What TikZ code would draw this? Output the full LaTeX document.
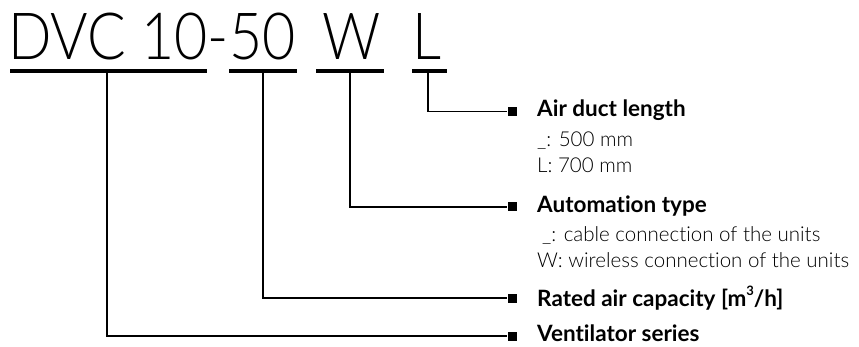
\documentclass[tikz,border=0pt]{standalone}
\usepackage{fontspec}
\setmainfont{Lato}[Ligatures=NoCommon]
\newfontfamily\lightfont{Lato Light}[Ligatures=NoCommon]
\begin{document}
\begin{tikzpicture}[x=1pt,y=-1pt,
 code/.style={inner sep=0,anchor=base west,font=\lightfont\fontsize{65}{65}\selectfont},
 uline/.style={line width=4pt},
 conn/.style={line width=1.4pt},
 marker/.style={fill=black,minimum size=9pt,inner sep=0},
 title/.style={inner sep=0,anchor=base west,font=\fontsize{22.5}{26}\selectfont\bfseries},
 desc/.style={inner sep=0,anchor=base west,font=\lightfont\fontsize{20.5}{24}\selectfont},
]
\useasboundingbox (0,0) rectangle (859,347);
% code
\node[code] (dvc) at (8,60) {\scalebox{0.88}[1]{DVC 10-50}};
\node[code] (cw) at (322,60) {\scalebox{0.88}[1]{W}};
\node[code] (cl) at (412,60) {\scalebox{0.88}[1]{L}};
% underlines
\draw[uline] (10,71) -- (207,71);
\draw[uline] (229,71) -- (297,71);
\draw[uline] (316,71) -- (384,71);
\draw[uline] (412,71) -- (447,71);
\coordinate (u1) at (107,71);
\coordinate (u2) at (263,71);
\coordinate (u3) at (350,71);
\coordinate (u4) at (428,71);
% markers
\node[marker] (m4) at (512,111.7) {};
\node[marker] (m3) at (512,207) {};
\node[marker] (m2) at (512,298) {};
\node[marker] (m1) at (512,336) {};
% connectors
\draw[conn] (u4) |- (m4.west);
\draw[conn] (u3) |- (m3.west);
\draw[conn] (u2) |- (m2.west);
\draw[conn] (u1) |- (m1.west);
% labels
\node[title] (t4) at (537,117) {Air duct length};
\node[desc] (d4a) at (537,147) {\_: 500 mm};
\node[desc] (d4b) at (537,173) {L: 700 mm};
\node[title] (t3) at (537,213) {Automation type};
\node[desc] (d3a) at (542,242) {\_: cable connection of the units};
\node[desc] (d3b) at (537,268) {W: wireless connection of the units};
\node[title] (t2) at (537,306) {Rated air capacity [m\raisebox{0.45em}{\fontsize{13}{13}\selectfont 3}/h]};
\node[title] (t1) at (537,341) {Ventilator series};
\end{tikzpicture}
\end{document}
